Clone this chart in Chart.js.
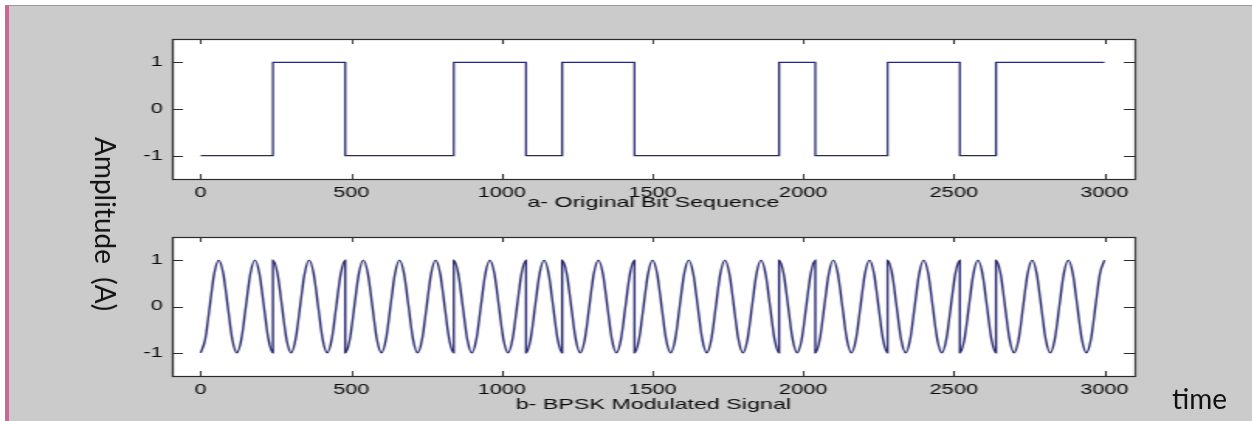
<!DOCTYPE html>
<html>
<head>
<meta charset="utf-8">
<title>BPSK</title>
<script src="https://cdn.jsdelivr.net/npm/chart.js@4.4.0/dist/chart.umd.min.js"></script>
<style>
  html, body { margin: 0; padding: 0; background: #fff; }
  #page { position: relative; width: 1252px; height: 421px; overflow: hidden; background: #fff; }
  #sheet { position: absolute; left: 9px; top: 5px; right: 0; bottom: 0; background: #cbcbcb; border-top: 1px solid #9a9a9a; }
  #pinkBar { position: absolute; left: 5px; top: 5px; width: 4px; bottom: 0; background: #c66a99; }
  /* the matlab figure was pasted stretched sideways, so draw it narrow and stretch it */
  #figure { position: absolute; left: 0; top: 0; width: 808px; height: 421px; transform: scaleX(1.55); transform-origin: 0 0; }
  .panel { position: absolute; left: 0; }
  #amplitudeLabel {
    position: absolute; left: 106px; top: 224px;
    transform: translate(-50%, -50%) rotate(90deg);
    font: 28px Lato, "Open Sans", sans-serif; color: #111; white-space: nowrap; word-spacing: 6px;
  }
  #timeLabel { position: absolute; left: 1172px; top: 384px; font: 28px Lato, "Open Sans", sans-serif; line-height: 28px; color: #111; }
</style>
</head>
<body>
<div id="page">
  <div id="sheet"></div>
  <div id="pinkBar"></div>
  <div id="figure">
    <canvas id="bitChart" class="panel" width="808" height="212" style="top:0"></canvas>
    <canvas id="bpskChart" class="panel" width="808" height="209" style="top:212px"></canvas>
  </div>
  <div id="amplitudeLabel">Amplitude (A)</div>
  <div id="timeLabel">time</div>
</div>
<script>
// Datos
const xTicks = [0, 500, 1000, 1500, 2000, 2500, 3000];
const yTicks = [-1, 0, 1];
const xRange = [-95, 3100];
const yRange = [-1.5, 1.5];

// start of every bit, last entry = end of the sequence
const bitEdges = [0, 120, 240, 360, 480, 600, 720, 840, 960, 1080, 1200, 1320, 1440,
  1560, 1680, 1800, 1920, 2040, 2160, 2280, 2400, 2520, 2640, 2760, 2880, 3000];
const bitValues = [-1, -1, 1, 1, -1, -1, -1, 1, 1, -1, 1, 1, -1,
  -1, -1, -1, 1, -1, -1, 1, 1, -1, 1, 1, 1];

// one carrier period per bit, read every eighth of a bit
const carrierOffsets = [0, 15, 30, 45, 60, 75, 90, 105];
const carrierLevels = [1, 0.71, 0, -0.71, -1, -0.71, 0, 0.71];

const lineColor = '#28286e';
const textColor = '#0a0a0a';
const tickFont = { family: '"Liberation Sans", Arial, sans-serif', size: 14 };
const titleFont = { family: '"Liberation Sans", Arial, sans-serif', size: 15 };

function buildBitSeries() {
  const pts = bitValues.map((b, i) => ({ x: bitEdges[i], y: b }));
  pts.push({ x: bitEdges[bitEdges.length - 1], y: bitValues[bitValues.length - 1] });
  return pts;
}

function buildBpskSeries() {
  const pts = [];
  bitValues.forEach((b, i) => {
    carrierOffsets.forEach((dt, k) => pts.push({ x: bitEdges[i] + dt, y: b * carrierLevels[k] }));
    // phase flip (or end of signal): close the period, next bit jumps from here
    if (bitValues[i + 1] !== b) pts.push({ x: bitEdges[i + 1], y: b });
  });
  return pts;
}

// white axes box, frame and inward ticks like matlab
const matlabAxes = {
  id: 'matlabAxes',
  beforeDatasetsDraw(chart) {
    const { ctx, chartArea: a } = chart;
    ctx.save();
    ctx.fillStyle = '#ffffff';
    ctx.fillRect(a.left, a.top, a.right - a.left, a.bottom - a.top);
    ctx.restore();
  },
  afterDraw(chart) {
    const { ctx, chartArea: a, scales } = chart;
    ctx.save();
    ctx.strokeStyle = '#2b2b2b';
    ctx.lineWidth = 1;
    ctx.beginPath();
    xTicks.forEach(v => {
      const px = Math.round(scales.x.getPixelForValue(v)) + 0.5;
      ctx.moveTo(px, a.top); ctx.lineTo(px, a.top + 5);
      ctx.moveTo(px, a.bottom); ctx.lineTo(px, a.bottom - 5);
    });
    yTicks.forEach(v => {
      const py = Math.round(scales.y.getPixelForValue(v)) + 0.5;
      ctx.moveTo(a.left, py); ctx.lineTo(a.left + 7, py);
      ctx.moveTo(a.right, py); ctx.lineTo(a.right - 7, py);
    });
    ctx.stroke();
    ctx.lineWidth = 1.2;
    ctx.strokeRect(Math.round(a.left) + 0.5, Math.round(a.top) + 0.5, Math.round(a.right - a.left), Math.round(a.bottom - a.top));
    ctx.restore();
  }
};

function makePanel(canvasId, cfg) {
  return new Chart(document.getElementById(canvasId), {
    type: 'line',
    data: {
      datasets: [{
        data: cfg.data,
        borderColor: lineColor,
        borderWidth: cfg.lineWidth,
        pointRadius: 0,
        fill: false,
        stepped: cfg.stepped,
        cubicInterpolationMode: 'monotone'
      }]
    },
    options: {
      responsive: false,
      animation: false,
      events: [],
      layout: { padding: { top: cfg.padTop, right: 76, bottom: 0, left: 0 } },
      plugins: { legend: { display: false }, tooltip: { enabled: false } },
      scales: {
        x: {
          type: 'linear',
          min: xRange[0],
          max: xRange[1],
          grid: { display: false, drawTicks: false },
          border: { display: false },
          afterBuildTicks: s => { s.ticks = xTicks.map(v => ({ value: v })); },
          afterFit: s => { s.height = cfg.xAxisHeight; },
          ticks: { padding: 6, color: textColor, font: tickFont, maxRotation: 0, autoSkip: false, callback: v => String(v) },
          title: { display: true, text: cfg.title, color: textColor, font: titleFont, padding: { top: 0, bottom: cfg.titlePad } }
        },
        y: {
          type: 'linear',
          min: yRange[0],
          max: yRange[1],
          grid: { display: false, drawTicks: false },
          border: { display: false },
          afterBuildTicks: s => { s.ticks = yTicks.map(v => ({ value: v })); },
          afterFit: s => { s.width = 111; },
          ticks: { padding: 6, color: textColor, font: tickFont, callback: v => String(v) }
        }
      }
    },
    plugins: [matlabAxes]
  });
}

makePanel('bitChart', {
  data: buildBitSeries(),
  stepped: 'before',
  lineWidth: 1.3,
  padTop: 39,
  xAxisHeight: 33,
  titlePad: 0,
  title: 'a- Original Bit Sequence'
});

makePanel('bpskChart', {
  data: buildBpskSeries(),
  stepped: false,
  lineWidth: 1.4,
  padTop: 25,
  xAxisHeight: 45,
  titlePad: 7,
  title: 'b- BPSK Modulated Signal'
});
</script>
</body>
</html>
